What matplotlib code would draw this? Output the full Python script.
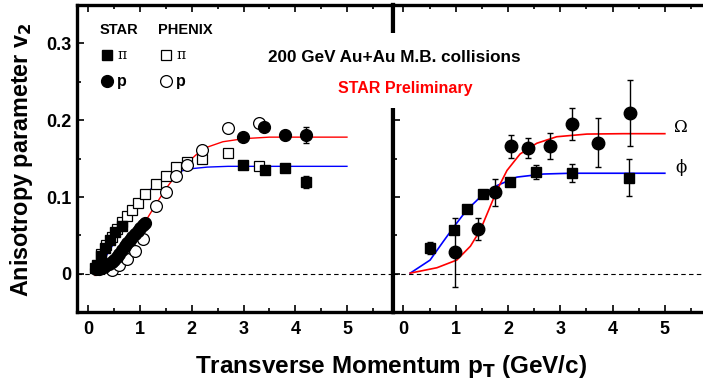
import matplotlib
matplotlib.use("Agg")
import matplotlib.pyplot as plt
from matplotlib.patches import Rectangle
from matplotlib.ticker import MultipleLocator

plt.rcParams["font.family"] = ["Liberation Sans", "DejaVu Sans"]
plt.rcParams["font.weight"] = "bold"

# ---- left panel: pions and protons ----
star_pi_x = [0.12, 0.16, 0.24, 0.32, 0.42, 0.52, 0.65, 2.99, 3.41, 3.81, 4.21]
star_pi_y = [0.008, 0.012, 0.023, 0.034, 0.044, 0.055, 0.062, 0.142, 0.135, 0.138, 0.120]
star_pi_err = [0, 0, 0, 0, 0, 0, 0, 0.003, 0.003, 0.004, 0.008]

star_p_x = [0.15, 0.2, 0.25, 0.3, 0.35, 0.4, 0.45, 0.5, 0.55, 0.6, 0.65, 0.7,
            0.75, 0.8, 0.85, 0.9, 0.95, 1.0, 1.05, 1.1, 2.99, 3.40, 3.81, 4.21]
star_p_y = [0.006, 0.007, 0.008, 0.009, 0.011, 0.013, 0.015, 0.018, 0.022, 0.026,
            0.031, 0.036, 0.040, 0.044, 0.048, 0.052, 0.056, 0.060, 0.063, 0.066,
            0.178, 0.191, 0.181, 0.181]
star_p_err = [0] * 20 + [0.004, 0.004, 0.005, 0.010]

phenix_pi_x = [0.25, 0.35, 0.45, 0.55, 0.65, 0.75, 0.85, 0.95, 1.1, 1.3, 1.5,
               1.7, 1.9, 2.2, 2.7, 3.3]
phenix_pi_y = [0.026, 0.037, 0.048, 0.058, 0.067, 0.076, 0.083, 0.092, 0.104,
               0.117, 0.128, 0.139, 0.145, 0.149, 0.157, 0.141]

phenix_p_x = [0.45, 0.6, 0.75, 0.9, 1.05, 1.3, 1.5, 1.7, 1.9, 2.2, 2.7, 3.3]
phenix_p_y = [0.005, 0.012, 0.020, 0.030, 0.045, 0.089, 0.106, 0.127, 0.142,
              0.161, 0.190, 0.196]

fit_pi_x = [0.15, 0.3, 0.45, 0.6, 0.75, 0.9, 1.05, 1.2, 1.4, 1.6, 1.8, 2.0,
            2.3, 2.7, 3.2, 4.0, 5.0]
fit_pi_y = [0.003, 0.018, 0.035, 0.052, 0.068, 0.085, 0.099, 0.110, 0.121,
            0.129, 0.134, 0.137, 0.139, 0.140, 0.140, 0.140, 0.140]

fit_p_x = [0.13, 0.3, 0.5, 0.7, 0.9, 1.1, 1.3, 1.5, 1.7, 1.9, 2.1, 2.3, 2.6,
           3.0, 3.5, 4.0, 5.0]
fit_p_y = [-0.002, 0.005, 0.015, 0.030, 0.048, 0.068, 0.090, 0.111, 0.129,
           0.144, 0.156, 0.165, 0.172, 0.176, 0.178, 0.178, 0.178]

# ---- right panel: phi and Omega ----
phi_x = [0.51, 0.96, 1.21, 1.53, 2.03, 2.54, 3.23, 4.32]
phi_y = [0.0335, 0.057, 0.085, 0.1045, 0.1195, 0.133, 0.1316, 0.125]
phi_err = [0.008, 0.005, 0.004, 0.004, 0.005, 0.009, 0.012, 0.024]

omega_x = [0.99, 1.42, 1.75, 2.05, 2.39, 2.80, 3.23, 3.73, 4.33]
omega_y = [0.028, 0.0585, 0.106, 0.166, 0.164, 0.166, 0.195, 0.171, 0.209]
omega_err = [0.045, 0.014, 0.017, 0.015, 0.013, 0.017, 0.021, 0.032, 0.043]

fit_phi_x = [0.13, 0.51, 0.76, 0.99, 1.21, 1.47, 1.79, 2.17, 2.68, 3.2, 4.0, 5.0]
fit_phi_y = [0.001, 0.018, 0.042, 0.0636, 0.083, 0.100, 0.115, 0.126, 0.130,
             0.131, 0.131, 0.131]

fit_om_x = [0.13, 0.64, 1.02, 1.28, 1.47, 1.63, 1.79, 1.98, 2.23, 2.55, 2.93,
            3.51, 4.2, 5.0]
fit_om_y = [0.001, 0.008, 0.018, 0.036, 0.057, 0.083, 0.109, 0.1346, 0.156,
            0.170, 0.1785, 0.182, 0.1825, 0.1825]

W, H = 703, 387
fig = plt.figure(figsize=(7.03, 3.87), dpi=100)

axL = fig.add_axes([77 / W, 1 - 312.3 / H, 316 / W, 307.3 / H])
axR = fig.add_axes([393 / W, 1 - 312.3 / H, 310 / W, 307.3 / H])


def style(ax, xlim):
    ax.set_xlim(*xlim)
    ax.set_ylim(-0.05, 0.35)
    ax.axhline(0, color="black", lw=0.8, ls=(0, (4, 3)), zorder=1)
    ax.xaxis.set_major_locator(MultipleLocator(1))
    ax.xaxis.set_minor_locator(MultipleLocator(0.5))
    ax.yaxis.set_major_locator(MultipleLocator(0.1))
    ax.yaxis.set_minor_locator(MultipleLocator(0.05))
    ax.tick_params(which="both", direction="in", top=True, width=1.2)
    ax.tick_params(which="major", length=5)
    ax.tick_params(which="minor", length=3)
    ax.tick_params(axis="x", which="major", labelsize=13, pad=6)
    ax.tick_params(axis="y", which="major", labelsize=13, pad=4)
    for s in ["top", "bottom", "left"]:
        ax.spines[s].set_linewidth(2.4)


style(axL, (-0.22, 5.89))
axL.set_xticks([0, 1, 2, 3, 4, 5])
axL.set_yticks([0, 0.1, 0.2, 0.3])
axL.set_yticklabels(["0", "0.1", "0.2", "0.3"], fontweight="bold")
axL.set_xticklabels(["0", "1", "2", "3", "4", "5"], fontweight="bold")
axL.spines["right"].set_linewidth(3)
axL.tick_params(axis="y", which="both", right=False)

axL.plot(fit_pi_x, fit_pi_y, color="blue", lw=1, zorder=2)
axL.plot(fit_p_x, fit_p_y, color="red", lw=1, zorder=2)
axL.plot(phenix_pi_x, phenix_pi_y, "s", ms=7, mfc="white", mec="black",
         mew=0.9, zorder=3)
axL.plot(phenix_p_x, phenix_p_y, "o", ms=8.5, mfc="white", mec="black",
         mew=0.9, zorder=3)
axL.errorbar(star_p_x, star_p_y, yerr=star_p_err, fmt="o", ms=8.5, color="black",
             elinewidth=1, capsize=2, zorder=4)
axL.errorbar(star_pi_x, star_pi_y, yerr=star_pi_err, fmt="s", ms=6.5,
             color="black", elinewidth=1, capsize=2, zorder=4)

style(axR, (-0.2, 5.73))
axR.set_xticks([0, 1, 2, 3, 4, 5])
axR.set_xticklabels(["0", "1", "2", "3", "4", "5"], fontweight="bold")
axR.tick_params(axis="y", which="both", labelleft=False, right=False)
axR.spines["right"].set_visible(False)
axR.spines["left"].set_linewidth(3)

axR.plot(fit_phi_x, fit_phi_y, color="blue", lw=1.2, zorder=2)
axR.plot(fit_om_x, fit_om_y, color="red", lw=1.2, zorder=2)
axR.errorbar(phi_x, phi_y, yerr=phi_err, fmt="s", ms=7, color="black",
             elinewidth=1, capsize=2, zorder=4)
axR.errorbar(omega_x, omega_y, yerr=omega_err, fmt="o", ms=9, color="black",
             elinewidth=1, capsize=2, zorder=4)
axR.text(5.3, 0.19, "Ω", family="DejaVu Serif", fontweight="normal",
         fontsize=12, ha="center", va="center")
axR.text(5.3, 0.138, "ϕ", family="DejaVu Serif", fontweight="normal",
         fontsize=12, ha="center", va="center")

# legend block (left panel)
axL.text(0.22, 0.318, "STAR", fontsize=10.5, fontweight="bold", va="center")
axL.text(1.35, 0.318, "PHENIX", fontsize=10.5, fontweight="bold", va="center")
axL.plot([0.36], [0.2855], "s", ms=6.5, color="black")
axL.plot([0.36], [0.2507], "o", ms=8.5, color="black")
axL.plot([1.5], [0.2855], "s", ms=7, mfc="white", mec="black", mew=0.9)
axL.plot([1.5], [0.2507], "o", ms=8.5, mfc="white", mec="black", mew=0.9)
axL.text(0.56, 0.2855, "π", fontsize=10, family="DejaVu Serif",
         fontweight="normal", va="center")
axL.text(0.56, 0.2507, "p", fontsize=11.5, fontweight="bold", va="center")
axL.text(1.7, 0.2855, "π", fontsize=10, family="DejaVu Serif",
         fontweight="normal", va="center")
axL.text(1.7, 0.2507, "p", fontsize=11.5, fontweight="bold", va="center")

# white patch behind the header texts, breaking the middle divider
fig.patches.append(Rectangle((262 / W, 1 - 108 / H), 264 / W, 75 / H,
                             transform=fig.transFigure, facecolor="white",
                             edgecolor="none", zorder=5))
fig.text(394 / W, 1 - 58 / H, "200 GeV Au+Au M.B. collisions", fontsize=12.3,
         fontweight="bold", ha="center", va="center", zorder=6)
fig.text(405 / W, 1 - 88 / H, "STAR Preliminary", fontsize=11.5,
         fontweight="bold", color="red", ha="center", va="center", zorder=6)

fig.text(22 / W, 1 - 160 / H, "Anisotropy parameter v$_\\mathbf{2}$",
         fontsize=16.8, fontweight="bold", rotation=90, ha="center", va="center")
fig.text(391 / W, 1 - 366 / H, "Transverse Momentum p$_\\mathbf{T}$ (GeV/c)",
         fontsize=17.5, fontweight="bold", ha="center", va="center")

fig.savefig("out.png", dpi=100)
